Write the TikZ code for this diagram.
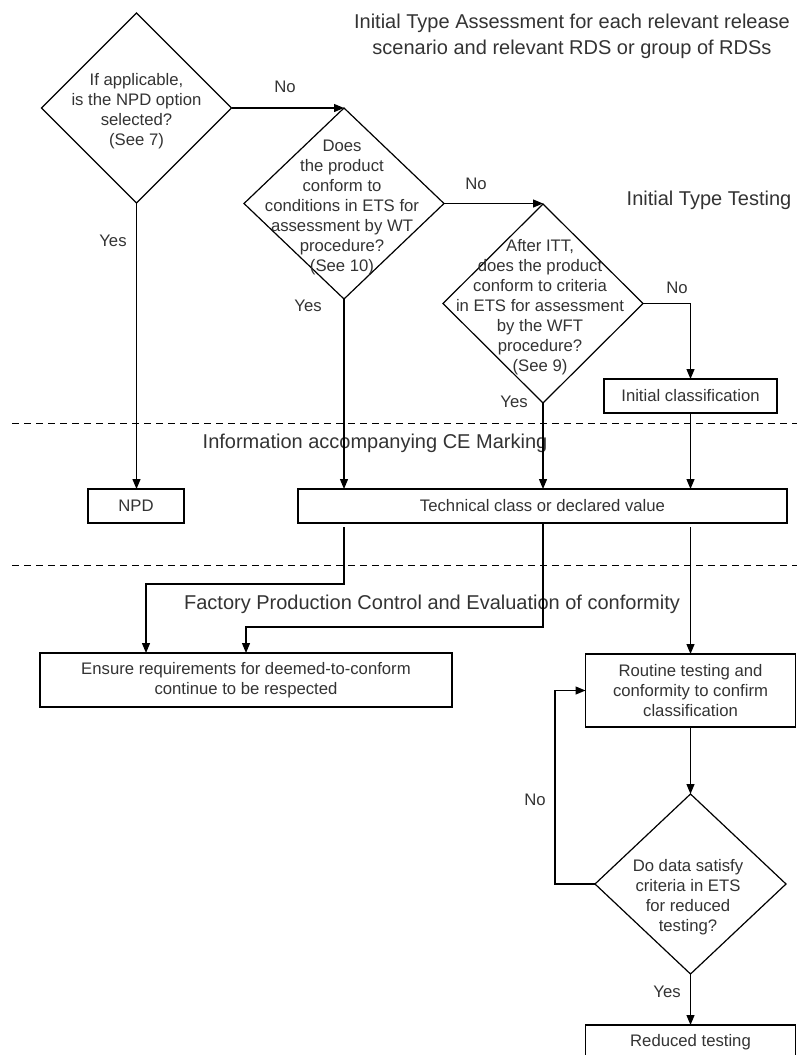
\documentclass[tikz,border=0pt]{standalone}
\usepackage{fontspec}
\setmainfont{Liberation Sans}
\usetikzlibrary{arrows.meta,shapes.geometric,calc}
\begin{document}
\begin{tikzpicture}[x=1pt,y=-1pt,
  line width=1.2pt,
  txt/.style={text=black!80, font=\fontsize{16.7}{20}\selectfont, inner sep=0pt, align=center},
  ttl/.style={text=black!80, font=\fontsize{20}{26}\selectfont, inner sep=0pt, align=center},
  dec/.style={diamond, draw, inner sep=0pt, outer sep=0pt},
  box/.style={rectangle, draw, inner sep=0pt, outer sep=0pt, txt},
  arr/.style={-{Triangle[length=10pt,width=8pt]}},
  sep/.style={line width=1pt, dash pattern=on 7pt off 5pt}]
\useasboundingbox (0,0) rectangle (797,1055);

% titles
\node[ttl] (title) at (572,36) {Initial Type Assessment for each relevant release\\scenario and relevant RDS or group of RDSs};
\node[ttl] (itt) at (709,200) {Initial Type Testing};
\node[ttl] (info) at (375,443) {Information accompanying CE Marking};
\node[ttl] (fpc) at (432,604) {Factory Production Control and Evaluation of conformity};

% separators
\coordinate (s1a) at (12,423); \coordinate (s1b) at (797,423);
\coordinate (s2a) at (12,565); \coordinate (s2b) at (797,565);
\draw[sep] (s1a) -- (s1b);
\draw[sep] (s2a) -- (s2b);

% decisions
\node[dec, minimum width=190pt, minimum height=190pt] (d1) at (136.5,108) {};
\node[txt] (d1t) at (136.5,111) {If applicable,\\is the NPD option\\selected?\\(See 7)};
\node[dec, minimum width=200pt, minimum height=191pt] (d2) at (344,203.5) {};
\node[txt] (d2t) at (342,207) {Does\\the product\\conform to\\conditions in ETS for\\assessment by WT\\procedure?\\(See 10)};
\node[dec, minimum width=200pt, minimum height=199pt] (d3) at (543,303.5) {};
\node[txt] (d3t) at (540,307) {After ITT,\\does the product\\conform to criteria\\in ETS for assessment\\by the WFT\\procedure?\\(See 9)};
\node[dec, minimum width=191pt, minimum height=180pt] (d4) at (690.5,884) {};
\node[txt] (d4t) at (688,897) {Do data satisfy\\criteria in ETS\\for reduced\\testing?};

% boxes
\node[box, minimum width=96pt, minimum height=34pt] (npd) at (136,506) {NPD};
\node[box, minimum width=489pt, minimum height=34pt] (tech) at (542.5,506) {Technical class or declared value};
\node[box, minimum width=173pt, minimum height=34pt] (ic) at (690.5,396) {Initial classification};
\node[box, minimum width=412pt, minimum height=54pt] (ensure) at (246,680) {Ensure requirements for deemed-to-conform\\continue to be respected};
\node[box, minimum width=210pt, minimum height=73pt] (routine) at (690.5,690.5) {Routine testing and\\conformity to confirm\\classification};
\node[box, minimum width=210pt, minimum height=34pt] (reduced) at (690.5,1042) {Reduced testing};

% connectors
\draw[arr] (d1.east) -- (d2.north);
\draw[arr] (d2.east) -- (d2.east -| d3.north);
\draw[arr] (d3.east) -| (ic.north);
\draw[arr] (d1.south) -- (d1.south |- npd.north);
\draw[arr] (d2.south) -- (d2.south |- tech.north);
\draw[arr] (d3.south) -- (d3.south |- tech.north);
\draw[arr] (ic.south) -- (ic.south |- tech.north);
\draw[arr] ($(tech.south -| d2.south)+(0,4)$) -- ++(0,57) -| ([xshift=-100pt]ensure.north);
\draw[arr] (tech.south -| d3.south) -- ++(0,104) -| (ensure.north);
\draw[arr] ($(tech.south -| ic.south)+(0,4)$) -- (routine.north);
\draw[arr] (routine.south) -- (d4.north);
\draw[arr] (d4.west) -- ++(-40,0) |- (routine.west);
\draw[arr] (d4.south) -- (reduced.north);

% labels
\node[txt] (l1) at (285,87) {No};
\node[txt] (l2) at (113,241) {Yes};
\node[txt] (l3) at (308,306) {Yes};
\node[txt] (l4) at (476,184) {No};
\node[txt] (l5) at (514,402) {Yes};
\node[txt] (l6) at (677,288) {No};
\node[txt] (l7) at (535,800) {No};
\node[txt] (l8) at (667,992) {Yes};
\end{tikzpicture}
\end{document}
